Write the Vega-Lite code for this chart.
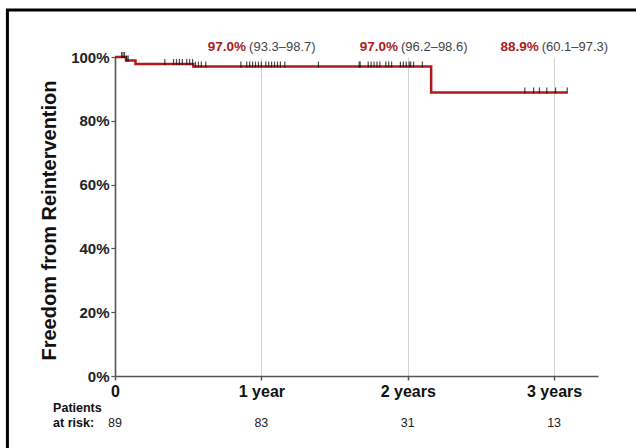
{
  "$schema": "https://vega.github.io/schema/vega-lite/v6.json",
  "autosize": "none",
  "padding": {"left": 115, "top": 57, "right": 38, "bottom": 72},
  "width": 483,
  "height": 319,
  "background": "white",
  "config": {
    "view": {"stroke": null},
    "font": "Liberation Sans"
  },
  "datasets": {
    "km": [
      {"t": 0, "s": 1.0},
      {"t": 0.075, "s": 0.989},
      {"t": 0.14, "s": 0.978},
      {"t": 0.535, "s": 0.970},
      {"t": 2.16, "s": 0.889},
      {"t": 3.09, "s": 0.889}
    ],
    "censored": [
      {"t": 0.045, "s": 1.0}, {"t": 0.055, "s": 1.0}, {"t": 0.065, "s": 1.0},
      {"t": 0.08, "s": 0.989}, {"t": 0.09, "s": 0.989},
      {"t": 0.34, "s": 0.978}, {"t": 0.40, "s": 0.978}, {"t": 0.42, "s": 0.978},
      {"t": 0.44, "s": 0.978}, {"t": 0.46, "s": 0.978}, {"t": 0.49, "s": 0.978},
      {"t": 0.51, "s": 0.978}, {"t": 0.53, "s": 0.978},
      {"t": 0.55, "s": 0.970}, {"t": 0.57, "s": 0.970}, {"t": 0.59, "s": 0.970},
      {"t": 0.62, "s": 0.970}, {"t": 0.86, "s": 0.970}, {"t": 0.90, "s": 0.970},
      {"t": 0.92, "s": 0.970}, {"t": 0.94, "s": 0.970}, {"t": 0.96, "s": 0.970},
      {"t": 0.98, "s": 0.970}, {"t": 1.00, "s": 0.970}, {"t": 1.03, "s": 0.970},
      {"t": 1.05, "s": 0.970}, {"t": 1.07, "s": 0.970}, {"t": 1.09, "s": 0.970},
      {"t": 1.11, "s": 0.970}, {"t": 1.13, "s": 0.970}, {"t": 1.16, "s": 0.970},
      {"t": 1.39, "s": 0.970}, {"t": 1.668, "s": 0.970}, {"t": 1.675, "s": 0.970},
      {"t": 1.73, "s": 0.970}, {"t": 1.75, "s": 0.970}, {"t": 1.77, "s": 0.970},
      {"t": 1.79, "s": 0.970}, {"t": 1.81, "s": 0.970}, {"t": 1.85, "s": 0.970},
      {"t": 1.87, "s": 0.970}, {"t": 1.89, "s": 0.970}, {"t": 1.95, "s": 0.970},
      {"t": 1.97, "s": 0.970}, {"t": 1.99, "s": 0.970}, {"t": 2.01, "s": 0.970},
      {"t": 2.02, "s": 0.970}, {"t": 2.04, "s": 0.970}, {"t": 2.10, "s": 0.970},
      {"t": 2.80, "s": 0.889}, {"t": 2.86, "s": 0.889}, {"t": 2.90, "s": 0.889},
      {"t": 2.95, "s": 0.889}, {"t": 3.01, "s": 0.889}, {"t": 3.09, "s": 0.889}
    ],
    "estimates": [
      {"t": 0.906, "est": "97.0%", "ci": "(93.3–98.7)"},
      {"t": 1.944, "est": "97.0%", "ci": "(96.2–98.6)"},
      {"t": 2.905, "est": "88.9%", "ci": "(60.1–97.3)"}
    ],
    "risk": [
      {"t": 0, "n": "89"},
      {"t": 1, "n": "83"},
      {"t": 2, "n": "31"},
      {"t": 3, "n": "13"}
    ],
    "risklabel": [
      {"t": -0.423, "row": -0.100, "label": "Patients"},
      {"t": -0.423, "row": -0.147, "label": "at risk:"}
    ],
    "frame": [{}]
  },
  "layer": [
    {
      "data": {"name": "km"},
      "mark": {"type": "line", "interpolate": "step-after", "color": "#b3191c", "strokeWidth": 2.5},
      "encoding": {
        "x": {
          "field": "t",
          "type": "quantitative",
          "scale": {"domain": [0, 3.3], "nice": false},
          "axis": {
            "values": [0, 1, 2, 3],
            "title": null,
            "labelExpr": "datum.value == 0 ? '0' : datum.value == 1 ? '1 year' : datum.value + ' years'",
            "labelFont": "Liberation Sans",
            "labelFontSize": 16,
            "labelFontWeight": "bold",
            "labelColor": "#111",
            "labelPadding": 3,
            "labelFlush": false,
            "tickSize": 4,
            "tickColor": "#555",
            "tickWidth": 1.5,
            "domainColor": "#555",
            "domainWidth": 1.6,
            "grid": true,
            "gridColor": "#d2d2d2",
            "gridWidth": 1
          }
        },
        "y": {
          "field": "s",
          "type": "quantitative",
          "scale": {"domain": [0, 1], "nice": false, "zero": true},
          "axis": {
            "values": [0, 0.2, 0.4, 0.6, 0.8, 1],
            "format": ".0%",
            "title": "Freedom from Reintervention",
            "titleFont": "Liberation Sans",
            "titleFontSize": 20,
            "titleFontWeight": "bold",
            "titleColor": "#111",
            "titleAngle": -90,
            "titleX": -60,
            "titleY": 163,
            "titleAlign": "center",
            "titleBaseline": "alphabetic",
            "labelFont": "Liberation Sans",
            "labelFontSize": 15,
            "labelFontWeight": "bold",
            "labelColor": "#222",
            "labelPadding": 2,
            "tickSize": 4,
            "tickColor": "#555",
            "tickWidth": 1.2,
            "domainColor": "#555",
            "domainWidth": 1.6,
            "grid": false
          }
        }
      }
    },
    {
      "data": {"name": "censored"},
      "mark": {"type": "tick", "orient": "vertical", "color": "#000", "size": 6, "thickness": 1.2, "yOffset": -2},
      "encoding": {
        "x": {"field": "t", "type": "quantitative"},
        "y": {"field": "s", "type": "quantitative"}
      }
    },
    {
      "data": {"name": "estimates"},
      "mark": {"type": "text", "align": "right", "baseline": "alphabetic", "dx": -1.5, "fontSize": 13.5, "fontWeight": "bold", "color": "#a81c1c", "font": "Liberation Sans"},
      "encoding": {
        "x": {"field": "t", "type": "quantitative"},
        "y": {"datum": 1.02},
        "text": {"field": "est"}
      }
    },
    {
      "data": {"name": "estimates"},
      "mark": {"type": "text", "align": "left", "baseline": "alphabetic", "dx": 1.5, "fontSize": 13, "color": "#444", "font": "Liberation Sans"},
      "encoding": {
        "x": {"field": "t", "type": "quantitative"},
        "y": {"datum": 1.02},
        "text": {"field": "ci"}
      }
    },
    {
      "data": {"name": "risk"},
      "mark": {"type": "text", "align": "center", "baseline": "middle", "fontSize": 12.5, "color": "#222", "font": "Liberation Sans"},
      "encoding": {
        "x": {"field": "t", "type": "quantitative"},
        "y": {"datum": -0.147},
        "text": {"field": "n"}
      }
    },
    {
      "data": {"name": "risklabel"},
      "mark": {"type": "text", "align": "left", "baseline": "middle", "fontSize": 12.5, "fontWeight": "bold", "color": "#111", "font": "Liberation Sans"},
      "encoding": {
        "x": {"field": "t", "type": "quantitative"},
        "y": {"field": "row", "type": "quantitative"},
        "text": {"field": "label"}
      }
    },
    {
      "data": {"name": "frame"},
      "mark": {"type": "rect", "fill": null, "fillOpacity": 0, "stroke": "#000", "strokeWidth": 3},
      "encoding": {
        "x": {"datum": -0.735},
        "x2": {"datum": 3.9},
        "y": {"datum": 1.147},
        "y2": {"datum": -0.6}
      }
    }
  ]
}
